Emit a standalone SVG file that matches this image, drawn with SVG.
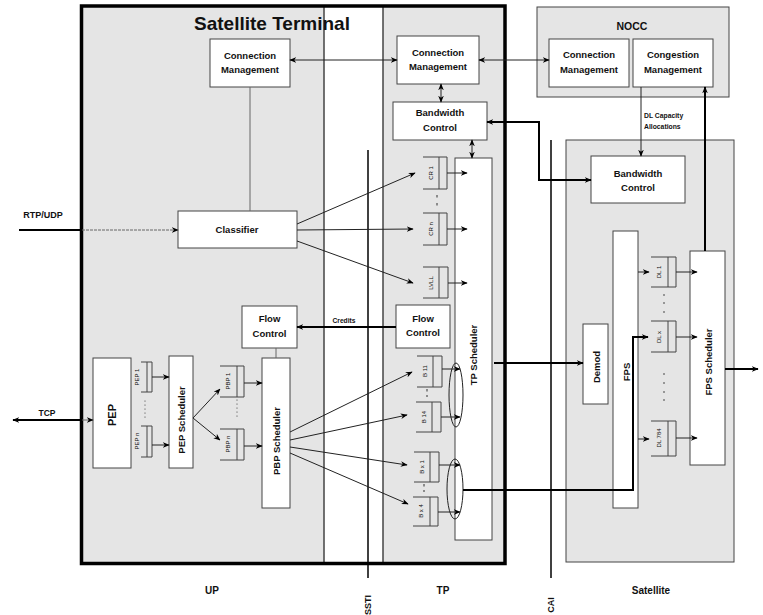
<svg xmlns="http://www.w3.org/2000/svg" width="763" height="615" viewBox="0 0 763 615">
<style>
.region{fill:#e5e5e5;stroke:#444;stroke-width:1}
.box{fill:#fff;stroke:#444;stroke-width:1}
.q{fill:none;stroke:#444;stroke-width:1}
.t{font-family:"Liberation Sans",Arial,sans-serif;font-weight:bold;fill:#111;text-anchor:middle}
.b{font-size:9.5px}
.r{dominant-baseline:central}
.s{font-size:6px;font-weight:normal}
.c{fill:none;stroke:#222;stroke-width:1}
.ck{fill:none;stroke:#000;stroke-width:2}
.cg{fill:none;stroke:#666;stroke-width:1}
.dot{fill:#333}
</style>
<defs>
<marker id="ah" viewBox="0 0 10 8" refX="9" refY="4" markerWidth="7" markerHeight="6" markerUnits="userSpaceOnUse" orient="auto-start-reverse">
<path d="M0,0 L10,4 L0,8 L3,4 z" fill="#000"/>
</marker>
</defs>

<!-- regions -->
<g id="regions">
<rect x="81.5" y="6" width="242.5" height="557.5" class="region" stroke="none"/>
<rect x="383" y="6" width="122" height="557.5" class="region" stroke="none"/>
<line x1="324" y1="6" x2="324" y2="563" stroke="#444"/>
<line x1="383" y1="6" x2="383" y2="563" stroke="#444"/>
<rect x="81.5" y="6" width="423.5" height="557.5" fill="none" stroke="#000" stroke-width="3.5"/>
<text x="272" y="30" class="t" font-size="19">Satellite Terminal</text>
<rect x="537" y="7" width="192" height="90" class="region"/>
<text x="632" y="30" class="t" font-size="10.5">NOCC</text>
<rect x="566" y="140" width="168" height="422" class="region"/>
<line x1="368" y1="150" x2="368" y2="578" stroke="#000" stroke-width="1.5"/>
<line x1="551" y1="140" x2="551" y2="578" stroke="#000" stroke-width="1.5"/>
<text x="212" y="594" class="t" font-size="10">UP</text>
<text x="443" y="594" class="t" font-size="10">TP</text>
<text x="651" y="594" class="t" font-size="10">Satellite</text>
<text transform="translate(368,605) rotate(-90)" class="t r" font-size="9">SSTI</text>
<text transform="translate(551,605) rotate(-90)" class="t r" font-size="9">CAI</text>
<text x="43" y="218" class="t" font-size="9">RTP/UDP</text>
<text x="47" y="416" class="t" font-size="8.5">TCP</text>
<text x="344" y="323" class="t" font-size="6.7">Credits</text>
<text x="644" y="118" class="t" font-size="6.8" style="text-anchor:start">DL Capacity</text>
<text x="644" y="129" class="t" font-size="6.8" style="text-anchor:start">Allocations</text>
</g>

<!-- nodes -->
<g id="cm-up"><rect x="210" y="39" width="80" height="48" class="box"/>
<text x="250" y="58.5" class="t b">Connection</text><text x="250" y="72.5" class="t b">Management</text></g>
<g id="cm-tp"><rect x="397" y="36" width="82" height="48" class="box"/>
<text x="438" y="55.5" class="t b">Connection</text><text x="438" y="69.5" class="t b">Management</text></g>
<g id="cm-nocc"><rect x="549" y="39" width="80" height="48" class="box"/>
<text x="589" y="58" class="t b">Connection</text><text x="589" y="72.5" class="t b">Management</text></g>
<g id="congestion"><rect x="633" y="39" width="80" height="48" class="box"/>
<text x="673" y="58" class="t b">Congestion</text><text x="673" y="72.5" class="t b">Management</text></g>
<g id="bw-tp"><rect x="393" y="102" width="94" height="38" class="box"/>
<text x="440" y="115.5" class="t b">Bandwidth</text><text x="440" y="131" class="t b">Control</text></g>
<g id="bw-sat"><rect x="591" y="156" width="94" height="47" class="box"/>
<text x="638" y="176.5" class="t b">Bandwidth</text><text x="638" y="190.5" class="t b">Control</text></g>
<g id="classifier"><rect x="178" y="211" width="119" height="37" class="box"/>
<text x="237" y="232.5" class="t b">Classifier</text></g>
<g id="fc-up"><rect x="242" y="306" width="55" height="42" class="box"/>
<text x="269.5" y="321.5" class="t b">Flow</text><text x="269.5" y="336.5" class="t b">Control</text></g>
<g id="fc-tp"><rect x="396" y="305" width="54" height="43" class="box"/>
<text x="423" y="321.5" class="t b">Flow</text><text x="423" y="336" class="t b">Control</text></g>
<g id="pep"><rect x="93" y="358" width="38" height="110" class="box"/>
<text transform="translate(112,415) rotate(-90)" class="t r" font-size="11">PEP</text></g>
<g id="pep-sched"><rect x="169" y="356" width="24" height="112" class="box"/>
<text transform="translate(181,420) rotate(-90)" class="t r b">PEP Scheduler</text></g>
<g id="pbp-sched"><rect x="262" y="358" width="28" height="150" class="box"/>
<text transform="translate(276,441) rotate(-90)" class="t r b">PBP Scheduler</text></g>
<g id="tp-sched"><rect x="455" y="158" width="37" height="382" class="box"/>
<text transform="translate(473,355) rotate(-90)" class="t r b">TP Scheduler</text></g>
<g id="demod"><rect x="583" y="324" width="25" height="80" class="box"/>
<text transform="translate(596,367) rotate(-90)" class="t r b">Demod</text></g>
<g id="fps"><rect x="613" y="231" width="25" height="277" class="box"/>
<text transform="translate(626,372) rotate(-90)" class="t r b">FPS</text></g>
<g id="fps-sched"><rect x="690" y="251" width="35" height="214" class="box"/>
<text transform="translate(708,362) rotate(-90)" class="t r b">FPS Scheduler</text></g>

<!-- queues -->
<g id="q-pep1"><path d="M141,362 H152 V392 H141 M147,362 V392" class="q"/><text transform="translate(137,377) rotate(-90)" class="t r s">PEP 1</text></g>
<g id="q-pepn"><path d="M141,426 H152 V457 H141 M147,426 V457" class="q"/><text transform="translate(137,441) rotate(-90)" class="t r s">PEP n</text></g>
<g id="q-pbp1"><path d="M220,366 H244 V397 H220 M237,366 V397" class="q"/><text transform="translate(228,381) rotate(-90)" class="t r s">PBP 1</text></g>
<g id="q-pbpn"><path d="M220,429 H244 V460 H220 M237,429 V460" class="q"/><text transform="translate(228,444) rotate(-90)" class="t r s">PBP n</text></g>
<g id="q-cr1"><path d="M423,157 H447 V189 H423 M439,157 V189" class="q"/><text transform="translate(431,173) rotate(-90)" class="t r s">CR 1</text></g>
<g id="q-crn"><path d="M423,213 H447 V245 H423 M439,213 V245" class="q"/><text transform="translate(431,229) rotate(-90)" class="t r s">CR n</text></g>
<g id="q-lvll"><path d="M423,267 H448 V298 H423 M439,267 V298" class="q"/><text transform="translate(431,283) rotate(-90)" class="t r s">LVLL</text></g>
<g id="q-b11"><path d="M417,356 H442 V387 H417 M433,356 V387" class="q"/><text transform="translate(425,371) rotate(-90)" class="t r s">B 11</text></g>
<g id="q-b14"><path d="M416,402 H441 V432 H416 M432,402 V432" class="q"/><text transform="translate(424,417) rotate(-90)" class="t r s">B 14</text></g>
<g id="q-bx1"><path d="M414,452 H439 V482 H414 M430,452 V482" class="q"/><text transform="translate(422,467) rotate(-90)" class="t r s">B x 1</text></g>
<g id="q-bx4"><path d="M413,497 H438 V526 H413 M430,497 V526" class="q"/><text transform="translate(421,511) rotate(-90)" class="t r s">B x 4</text></g>
<g id="q-dl1"><path d="M651,257 H676 V287 H651 M668,257 V287" class="q"/><text transform="translate(659,272) rotate(-90)" class="t r s">DL 1</text></g>
<g id="q-dlx"><path d="M651,321 H676 V352 H651 M668,321 V352" class="q"/><text transform="translate(659,337) rotate(-90)" class="t r s">DL x</text></g>
<g id="q-dl784"><path d="M651,421 H676 V456 H651 M668,421 V456" class="q"/><text transform="translate(659,438) rotate(-90)" class="t r s">DL 784</text></g>

<!-- dots -->
<g id="dots" class="dot">
<rect x="436.5" y="195" width="1" height="2.5"/><rect x="436.5" y="203" width="1" height="2.5"/>
<rect x="426.5" y="389" width="1" height="2.5"/><rect x="426.5" y="395" width="1" height="2"/>
<rect x="423.5" y="484" width="1" height="2.5"/><rect x="423.5" y="490" width="1" height="2"/>
<circle cx="145" cy="401" r="0.6"/><circle cx="145" cy="405" r="0.6"/><circle cx="145" cy="409" r="0.6"/><circle cx="145" cy="413" r="0.6"/><circle cx="145" cy="417" r="0.6"/>
<circle cx="237" cy="400" r="0.6"/><circle cx="237" cy="404" r="0.6"/><circle cx="237" cy="408" r="0.6"/><circle cx="237" cy="412" r="0.6"/><circle cx="237" cy="416" r="0.6"/>
<circle cx="664" cy="295" r="0.8"/><circle cx="664" cy="303" r="0.8"/><circle cx="664" cy="312" r="0.8"/>
<circle cx="664" cy="374" r="0.8"/><circle cx="664" cy="383" r="0.8"/><circle cx="664" cy="392" r="0.8"/><circle cx="664" cy="400" r="0.8"/>
</g>

<!-- connectors -->
<g id="connectors">
<line x1="19" y1="230" x2="82" y2="230" class="ck"/>
<line x1="82" y1="230" x2="178" y2="230" class="cg" stroke-dasharray="3,1" marker-end="url(#ah)"/>
<line x1="13" y1="420" x2="82" y2="420" class="ck" marker-start="url(#ah)"/>
<line x1="82" y1="420" x2="93" y2="420" class="cg" marker-end="url(#ah)"/>
<line x1="250" y1="87" x2="250" y2="211" class="cg"/>
<line x1="290" y1="60" x2="397" y2="60" class="c" stroke-width="1.5" marker-start="url(#ah)" marker-end="url(#ah)"/>
<line x1="479" y1="60" x2="549" y2="60" class="c" stroke-width="1.5" marker-start="url(#ah)" marker-end="url(#ah)"/>
<line x1="441" y1="84" x2="441" y2="102" class="c" stroke-width="1.5" marker-start="url(#ah)" marker-end="url(#ah)"/>
<line x1="472" y1="140" x2="472" y2="158" class="c" stroke-width="1.5" marker-start="url(#ah)" marker-end="url(#ah)"/>
<path d="M487,122 H539 V180 H591" class="ck" marker-start="url(#ah)" marker-end="url(#ah)"/>
<line x1="641" y1="87" x2="641" y2="156" class="c" marker-end="url(#ah)"/>
<line x1="705" y1="251" x2="705" y2="87" class="ck" marker-end="url(#ah)"/>
<line x1="297" y1="224" x2="415" y2="173" class="c" marker-end="url(#ah)"/>
<line x1="297" y1="230" x2="413" y2="229" class="c" marker-end="url(#ah)"/>
<line x1="297" y1="241" x2="413" y2="283" class="c" marker-end="url(#ah)"/>
<line x1="447" y1="173" x2="467" y2="173" class="c" marker-end="url(#ah)"/>
<line x1="447" y1="229" x2="467" y2="229" class="c" marker-end="url(#ah)"/>
<line x1="448" y1="283" x2="467" y2="283" class="c" marker-end="url(#ah)"/>
<line x1="396" y1="327" x2="297" y2="327" class="ck" stroke-width="1.8" marker-end="url(#ah)"/>
<line x1="276" y1="348" x2="276" y2="358" class="cg"/>
<line x1="152" y1="377" x2="169" y2="377" class="c" marker-end="url(#ah)"/>
<line x1="152" y1="445" x2="169" y2="445" class="c" marker-end="url(#ah)"/>
<line x1="193" y1="418" x2="220" y2="389" class="c" marker-end="url(#ah)"/>
<line x1="193" y1="418" x2="220" y2="440" class="c" marker-end="url(#ah)"/>
<line x1="244" y1="383" x2="262" y2="383" class="c" marker-end="url(#ah)"/>
<line x1="244" y1="446" x2="262" y2="446" class="c" marker-end="url(#ah)"/>
<line x1="290" y1="432" x2="412" y2="372" class="c" marker-end="url(#ah)"/>
<line x1="290" y1="440" x2="407" y2="415" class="c" marker-end="url(#ah)"/>
<line x1="290" y1="447" x2="407" y2="465" class="c" marker-end="url(#ah)"/>
<line x1="290" y1="453" x2="408" y2="504" class="c" marker-end="url(#ah)"/>
<line x1="442" y1="369" x2="460" y2="369" class="c" marker-end="url(#ah)"/>
<line x1="441" y1="417" x2="460" y2="417" class="c" marker-end="url(#ah)"/>
<line x1="439" y1="465" x2="460" y2="465" class="c" marker-end="url(#ah)"/>
<line x1="438" y1="512" x2="460" y2="512" class="c" marker-end="url(#ah)"/>
<ellipse cx="456" cy="395" rx="7" ry="32" class="c"/>
<ellipse cx="455" cy="489" rx="8" ry="30" class="c"/>
<path d="M463,490 H633 V337 H648" class="ck" marker-end="url(#ah)"/>
<line x1="494" y1="363" x2="583" y2="363" class="ck" marker-end="url(#ah)"/>
<line x1="638" y1="272" x2="649" y2="272" class="c" marker-end="url(#ah)"/>
<line x1="638" y1="439" x2="649" y2="439" class="c" marker-end="url(#ah)"/>
<line x1="676" y1="272" x2="697" y2="272" class="c" marker-end="url(#ah)"/>
<line x1="676" y1="337" x2="697" y2="337" class="c" marker-end="url(#ah)"/>
<line x1="676" y1="438" x2="697" y2="438" class="c" marker-end="url(#ah)"/>
<line x1="725" y1="369" x2="758" y2="369" class="ck" stroke-width="1.5" marker-end="url(#ah)"/>
</g>
</svg>
